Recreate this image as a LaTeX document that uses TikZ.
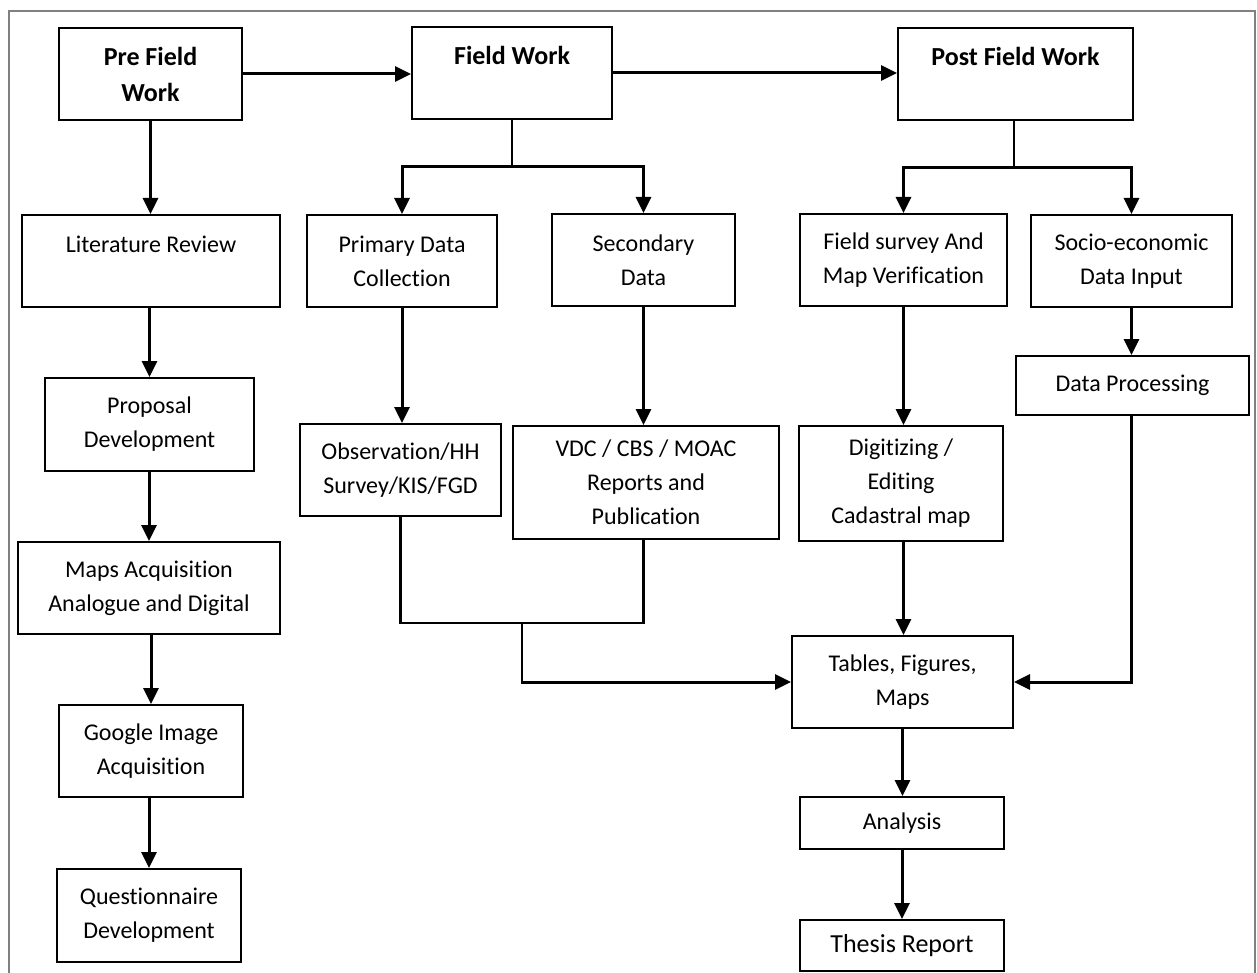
\documentclass[tikz,border=0pt]{standalone}
\usepackage{fontspec}
\setmainfont{Carlito}[Ligatures=NoCommon]
\usetikzlibrary{arrows.meta}
\begin{document}
\begin{tikzpicture}[x=1pt,y=-1pt,
  box/.style={draw=black, line width=2pt, rectangle, inner sep=0pt, align=center, font=\fontsize{24}{34}\selectfont},
  ttl/.style={font=\fontsize{26}{36}\selectfont\bfseries},
  conn/.style={line width=3pt, -{Triangle[length=16pt,width=15pt]}},
  slim/.style={line width=2.2pt},
  outerframe/.style={draw=gray, line width=2pt}]
\useasboundingbox (0,0) rectangle (1257,973);
\draw[outerframe] (9,973) -- (9,11) -- (1255,11) -- (1255,973);

\node[box,ttl,minimum width=183pt,minimum height=92pt] (pre) at (150.5,74) {Pre Field\\Work};
\node[box,ttl,minimum width=200pt,minimum height=92pt] (field) at (512,73) {Field Work\\\mbox{}};
\node[box,ttl,minimum width=235pt,minimum height=92pt] (post) at (1015.5,74) {Post Field Work\\\mbox{}};
\node[box,minimum width=258pt,minimum height=92pt] (lit) at (151,261) {Literature Review\\\mbox{}};
\node[box,minimum width=190pt,minimum height=92pt] (prim) at (402,261) {Primary Data\\Collection};
\node[box,minimum width=183pt,minimum height=92pt] (sec) at (643.5,260) {Secondary\\Data};
\node[box,minimum width=207pt,minimum height=92pt] (fsv) at (903.5,260) {Field survey And\\Map Verification};
\node[box,minimum width=201pt,minimum height=92pt] (socio) at (1131.5,261) {Socio-economic\\Data Input};
\node[box,minimum width=209pt,minimum height=93pt] (prop) at (149.5,424.5) {Proposal\\Development};
\node[box,minimum width=201pt,minimum height=92pt] (obs) at (400.5,470) {Observation/HH\\Survey/KIS/FGD};
\node[box,minimum width=266pt,minimum height=113pt] (vdc) at (646,482.5) {VDC / CBS / MOAC\\Reports and\\Publication};
\node[box,minimum width=204pt,minimum height=115pt] (dig) at (901,483.5) {Digitizing /\\Editing\\Cadastral map};
\node[box,minimum width=233pt,minimum height=59pt] (dp) at (1132.5,385.5) {Data Processing};
\node[box,minimum width=262pt,minimum height=92pt] (maps) at (149,588) {Maps Acquisition\\Analogue and Digital};
\node[box,minimum width=221pt,minimum height=92pt] (tables) at (902.5,682) {Tables, Figures,\\Maps};
\node[box,minimum width=184pt,minimum height=92pt] (google) at (151,751) {Google Image\\Acquisition};
\node[box,minimum width=204pt,minimum height=52pt] (analysis) at (902,823) {Analysis};
\node[box,minimum width=184pt,minimum height=93pt] (quest) at (149,915.5) {Questionnaire\\Development};
\node[box,minimum width=204pt,minimum height=51pt,font=\fontsize{26}{36}\selectfont] (thesis) at (902,945.5) {Thesis Report};

\draw[conn] (pre.east) -- (pre.east -| field.west);
\draw[conn] (field.east) -- (field.east -| post.west);
\draw[conn] (pre.south) -- (pre.south |- lit.north);

\coordinate (ffork) at (512,167);
\draw[slim] (field.south) -- (ffork);
\draw[conn] (ffork) -| (prim.north);
\draw[conn] (ffork) -| (sec.north);

\coordinate (pfork) at (1014,168);
\draw[slim] (post.south -| pfork) -- (pfork);
\draw[conn] (pfork) -| (fsv.north);
\draw[conn] (pfork) -| (socio.north);

\draw[conn] (prop.north |- lit.south) -- (prop.north);
\draw[conn] (maps.north |- prop.south) -- (maps.north);
\draw[conn] (google.north |- maps.south) -- (google.north);
\draw[conn] (quest.north |- google.south) -- (quest.north);

\draw[conn] (prim.south) -- (prim.south |- obs.north);
\draw[conn] (sec.south) -- (sec.south |- vdc.north);
\draw[conn] (fsv.south) -- (fsv.south |- dig.north);
\draw[conn] (socio.south) -- (socio.south |- dp.north);
\draw[conn] (fsv.south |- dig.south) -- (fsv.south |- tables.north);

\coordinate (mrg) at (522,623);
\draw[slim] (obs.south) -- (obs.south |- mrg) -- (sec.south |- mrg) -- (sec.south |- vdc.south);
\draw[slim] (mrg) -- (mrg |- tables.west);
\draw[conn,line cap=rect] (mrg |- tables.west) -- (tables.west);

\draw[slim] (dp.south -| socio.south) -- (socio.south |- tables.east);
\draw[conn,line cap=rect] (socio.south |- tables.east) -- (tables.east);

\draw[conn] (tables.south) -- (tables.south |- analysis.north);
\draw[conn] (analysis.south) -- (analysis.south |- thesis.north);
\end{tikzpicture}
\end{document}
